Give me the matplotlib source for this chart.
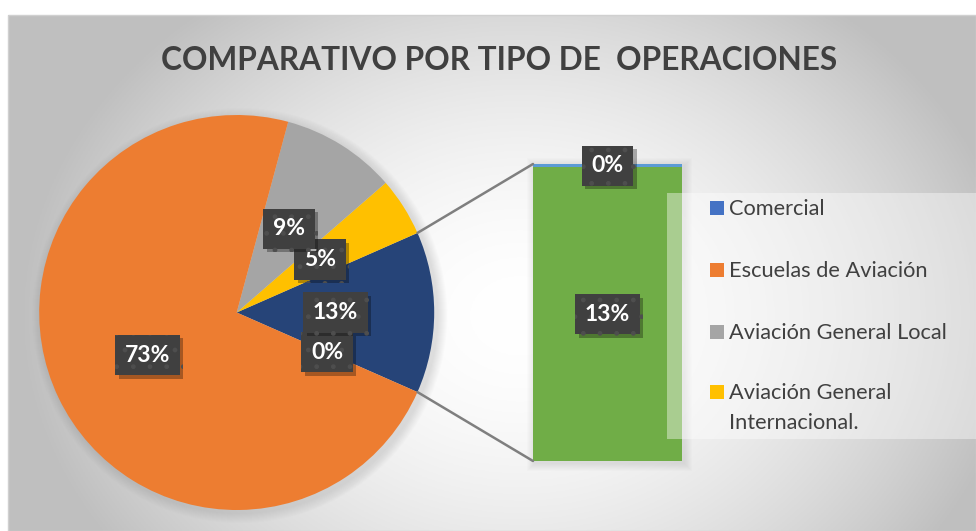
import numpy as np
import matplotlib
matplotlib.use("Agg")
import matplotlib.pyplot as plt
from matplotlib import font_manager
from matplotlib.patches import Rectangle, Circle
from matplotlib.patches import ConnectionPatch
import matplotlib.patheffects as pe

# datos (porcentajes)
categorias = ["Comercial", "Escuelas de Aviación", "Aviación General Local",
              "Aviación General\nInternacional."]
colores_leyenda = ["#4472C4", "#ED7D31", "#A5A5A5", "#FFC000"]
comercial = 0.15
escuelas = 72.6
general_local = 9.4
general_internacional = 4.8
otros = 13.05          # segmento verde de la barra (sin entrada visible en la leyenda)
otros_total = comercial + otros
titulo = "COMPARATIVO POR TIPO DE  OPERACIONES"


def pick(*names):
    for n in names:
        try:
            font_manager.findfont(n, fallback_to_default=False)
            return n
        except ValueError:
            pass
    return "DejaVu Sans"


f_text = pick("Lato", "Liberation Sans", "DejaVu Sans")

W, H = 976, 531
fig = plt.figure(figsize=(W / 100, H / 100), dpi=100)
ax = fig.add_axes([0, 0, 1, 1])
renderer = fig.canvas.get_renderer()


def fit_width(txt, target):
    w = txt.get_window_extent(renderer).width
    txt.set_fontsize(txt.get_fontsize() * target / w)


# fondo con degradado radial
xs = np.linspace(8, W, 400)
ys = np.linspace(0, H - 15, 220)
X, Y = np.meshgrid(xs, ys)
t = np.sqrt(((X - 520) / 500) ** 2 + ((Y - 215) / 400) ** 2)
g = 1 - 0.25 * np.clip(t, 0, 1) ** 1.8
ax.imshow(np.dstack([g, g, g]), extent=(8, W, 0, H - 15), origin="lower",
          aspect="auto", zorder=0)
ax.add_patch(Rectangle((8, 0), W - 8, H - 15, fill=False, ec="#d0d0d0", lw=1, zorder=1))

# pastel
cx, cy, r = 236.7, 218.5, 197.5
for k in range(1, 11):
    ax.add_patch(Circle((cx + 3, cy - 3), r + k, color="#888888", alpha=0.025,
                        lw=0, zorder=1))

pie_vals = [otros_total, general_internacional, general_local, escuelas, 0.0]
pie_cols = ["#264478", "#FFC000", "#A5A5A5", "#ED7D31", "#264478"]
start = -otros_total / 100 * 360 / 2
wedges, _, autotexts = ax.pie(pie_vals, colors=pie_cols, startangle=start,
                              center=(cx, cy), radius=r, autopct="%1.0f%%",
                              pctdistance=0.5, wedgeprops=dict(lw=0),
                              textprops=dict(color="white", fontsize=16.5,
                                             fontweight="bold", family=f_text))
for w in wedges:
    w.set_zorder(2)

box = dict(boxstyle="square,pad=0.42", fc="#404040", ec="#4e4e4e", lw=0, hatch=".")
shadow = [pe.withSimplePatchShadow(offset=(2.5, -2.5), shadow_rgbFace="k", alpha=0.3)]
for txt in autotexts:
    txt.set_bbox(box)
    txt.set_zorder(6)
    txt.get_bbox_patch().set_path_effects(shadow)
# el 13% queda por encima del 0%
autotexts[0].set_zorder(7)

# barra
bx0, bx1, by0, by1 = 533, 682, H - 461, H - 164
for k in range(1, 9):
    ax.add_patch(Rectangle((bx0 + 2 - k, by0 - 2 - k), bx1 - bx0 + 2 * k, by1 - by0 + 2 * k,
                           color="#888888", alpha=0.025, lw=0, zorder=1))
ax2 = fig.add_axes([bx0 / W, by0 / H, (bx1 - bx0) / W, (by1 - by0) / H])
ax2.bar(0, otros, width=1, color="#70AD47", lw=0)
ax2.bar(0, comercial, bottom=otros, width=1, color="#5B9BD5", lw=0)
ax2.set_xlim(-0.5, 0.5)
ax2.set_ylim(0, otros_total)
ax2.axis("off")
for yv, v in [(otros + comercial / 2, comercial), (otros / 2, otros)]:
    tt = ax2.text(0, yv, "%1.0f%%" % v, ha="center", va="center", color="white",
                  fontsize=16.5, fontweight="bold", family=f_text, bbox=box, zorder=6,
                  clip_on=False)
    tt.get_bbox_patch().set_path_effects(shadow)

# lineas de conexion
for ang, yb in [(start + otros_total * 3.6, otros_total), (start, 0)]:
    a = np.deg2rad(ang)
    con = ConnectionPatch(xyA=(cx + r * np.cos(a), cy + r * np.sin(a)), coordsA=ax.transData,
                          xyB=(-0.5, yb), coordsB=ax2.transData,
                          color="#7f7f7f", lw=1.8, zorder=3)
    fig.add_artist(con)

# leyenda (por encima de la barra)
fig.add_artist(Rectangle((667 / W, 1 - 439 / H), (W - 667) / W, (439 - 193) / H,
                         transform=fig.transFigure, fc="white", alpha=0.4, lw=0, zorder=5))
ly = [208, 270, 332, 392]
leg_texts = []
for name, col, y in zip(categorias, colores_leyenda, ly):
    fig.add_artist(Rectangle((710 / W, 1 - (y + 7) / H), 14 / W, 14 / H,
                             transform=fig.transFigure, fc=col, lw=0, zorder=6))
    leg_texts.append(fig.text(729 / W, 1 - (y - 9) / H, name, ha="left", va="top",
                              fontsize=15, color="#404040", family=f_text,
                              linespacing=1.65, zorder=6))
fit_width(leg_texts[2], 219)
for lt in leg_texts:
    lt.set_fontsize(leg_texts[2].get_fontsize())

tit = ax.text(499, H - 60, titulo, ha="center", va="center", fontsize=27,
              fontweight="bold", color="#404040", family=f_text)
fit_width(tit, 676)

ax.set_xlim(0, W)
ax.set_ylim(0, H)
ax.set_aspect("auto")
ax.axis("off")
fig.savefig("out.png", dpi=100, facecolor="white")
